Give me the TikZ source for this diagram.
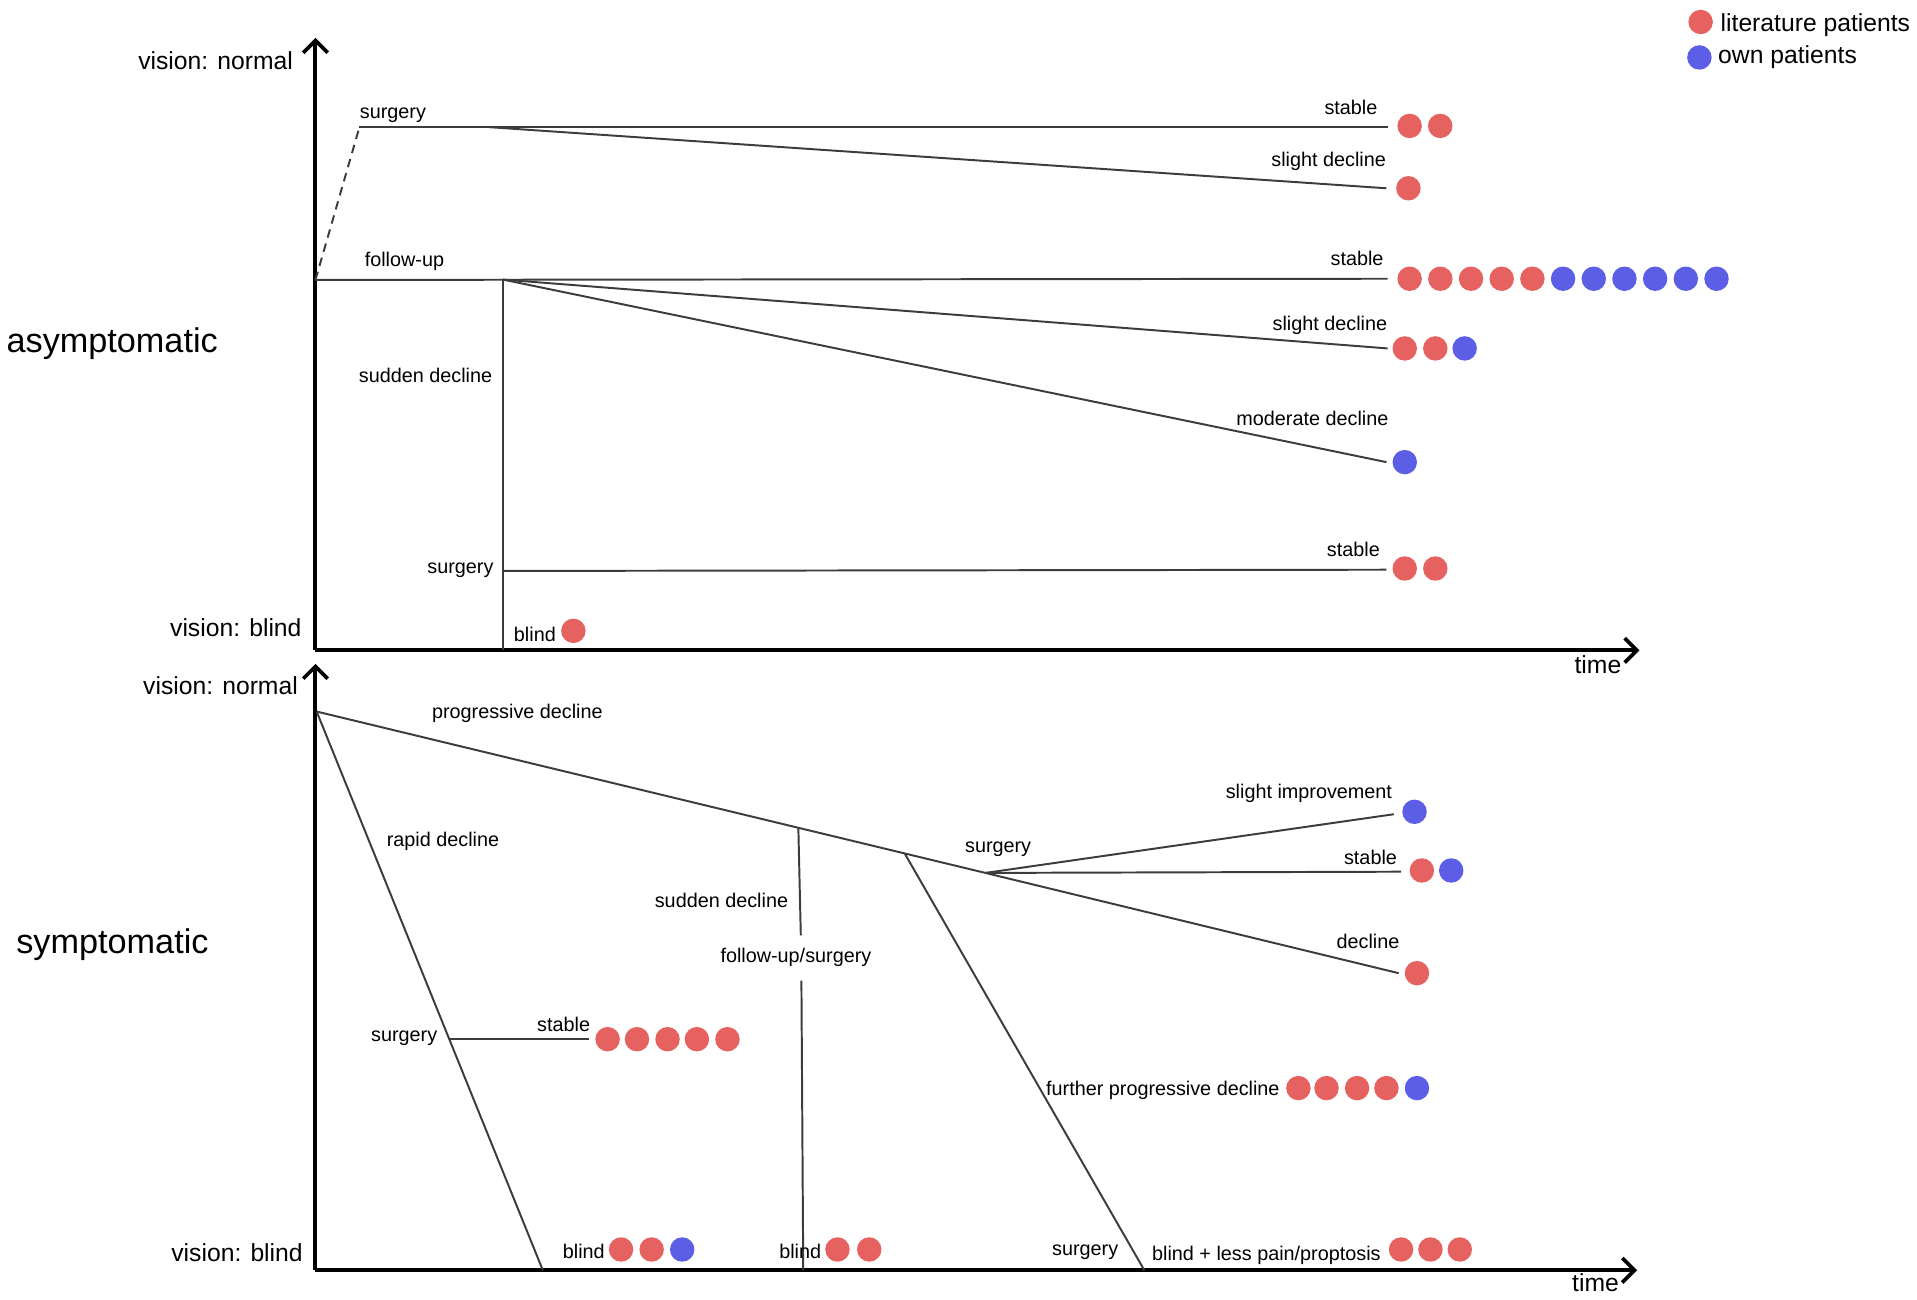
\documentclass[tikz,border=0pt]{standalone}
\usepackage{fontspec}
\setmainfont{Liberation Sans}
\usetikzlibrary{arrows.meta}
\definecolor{litred}{RGB}{229,98,96}
\definecolor{ownblue}{RGB}{92,94,230}
\definecolor{branchgray}{RGB}{60,60,60}
\newcommand{\axisfont}{\fontsize{10.1pt}{12pt}\selectfont}
\newcommand{\brfont}{\fontsize{8.1pt}{10pt}\selectfont}
\newcommand{\grpfont}{\fontsize{14pt}{16pt}\selectfont}
\begin{document}
\begin{tikzpicture}[x=0.5pt,y=-0.5pt,
  axis/.style={line width=1.65pt,-{Straight Barb[length=5pt,width=10pt,line width=1.5pt]}},
  branch/.style={line width=0.8pt,draw=branchgray},
  ax/.style={inner sep=0pt,font=\axisfont},
  br/.style={inner sep=0pt,font=\brfont},
  grp/.style={inner sep=0pt,font=\grpfont},
  dotr/.style={circle,fill=litred,inner sep=0pt,minimum size=10pt},
  dotb/.style={circle,fill=ownblue,inner sep=0pt,minimum size=10pt}]
\useasboundingbox (0,0) rectangle (1568,1063.3);

% ---------------- legend ----------------
\node[dotr] (legr) at (1391,18) {};
\node[dotb] (legb) at (1390,47) {};
\node[ax,anchor=base west] (legrt) at (1407,26) {literature patients};
\node[ax,anchor=base west] (legbt) at (1405,52) {own patients};

% ---------------- upper panel (asymptomatic) ----------------
\coordinate (O1) at (258,532);
\coordinate (Y1) at (258,31);
\coordinate (X1) at (1341,532);
\draw[axis] (O1) -- (Y1);
\draw[axis] (O1) -- (X1);
\node[ax,anchor=base east] (vn1) at (240,57) {vision: normal};
\node[ax,anchor=base east] (vb1) at (247,521) {vision: blind};
\node[ax,anchor=base] (time1) at (1307,551) {time};
\node[grp,anchor=base west] (asym) at (5,288) {asymptomatic};

\coordinate (F0) at (258,229);
\coordinate (Su0) at (294,104);
\coordinate (Su1) at (400,104);
\coordinate (SuE1) at (1135,104);
\coordinate (SuE2) at (1134,154);
\coordinate (FE1) at (1135,228);
\coordinate (F1) at (411.5,228.7);
\coordinate (FE2) at (1135,285);
\coordinate (FE3) at (1134,378);
\coordinate (FV) at (411.5,532);
\coordinate (FS) at (411.5,467);
\coordinate (FSE) at (1134,466);

\draw[branch,dashed,dash pattern=on 3.5pt off 2.5pt] (F0) -- (Su0);
\draw[branch] (Su0) -- (SuE1);
\draw[branch] (Su1) -- (SuE2);
\draw[branch] (F0) -- (FE1);
\draw[branch] (F1) -- (FE2);
\draw[branch] (F1) -- (FE3);
\draw[branch] (F1) -- (FV);
\draw[branch] (FS) -- (FSE);

\node[br,anchor=base west] (lsurg1) at (294,97) {surgery};
\node[br,anchor=base west] (lfollow) at (298,218) {follow-up};
\node[br,anchor=base east] (lsudd1) at (403,313) {sudden decline};
\node[br,anchor=base east] (lsurg2) at (404,469) {surgery};
\node[br,anchor=base west] (lblind1) at (420,525) {blind};
\node[br,anchor=base east] (lstabA) at (1127,94) {stable};
\node[br,anchor=base east] (lsliA) at (1134,136) {slight decline};
\node[br,anchor=base east] (lstabB) at (1132,217) {stable};
\node[br,anchor=base east] (lsliB) at (1135,270) {slight decline};
\node[br,anchor=base east] (lmod) at (1136,348) {moderate decline};
\node[br,anchor=base east] (lstabC) at (1129,455) {stable};

\node[dotr] (a1) at (1153,103) {};
\node[dotr] (a2) at (1178,103) {};
\node[dotr] (b1) at (1152,154) {};
\foreach \i in {0,...,4} { \node[dotr] (c\i) at (1153+25.1*\i,228) {}; }
\foreach \i in {5,...,10} { \node[dotb] (c\i) at (1153+25.1*\i,228) {}; }
\node[dotr] (d1) at (1149,285) {};
\node[dotr] (d2) at (1174,285) {};
\node[dotb] (d3) at (1198,285) {};
\node[dotb] (e1) at (1149,378) {};
\node[dotr] (f1) at (1149,465) {};
\node[dotr] (f2) at (1174,465) {};
\node[dotr] (g1) at (469,516) {};

% ---------------- lower panel (symptomatic) ----------------
\coordinate (O2) at (258,1039);
\coordinate (Y2) at (258,543);
\coordinate (X2) at (1339,1039);
\draw[axis] (O2) -- (Y2);
\draw[axis] (O2) -- (X2);
\node[ax,anchor=base east] (vn2) at (244,568) {vision: normal};
\node[ax,anchor=base east] (vb2) at (248,1032) {vision: blind};
\node[ax,anchor=base] (time2) at (1305,1056) {time};
\node[grp,anchor=base west] (sympt) at (13,780) {symptomatic};

\coordinate (P0) at (259,582);
\coordinate (R1) at (444,1039);
\coordinate (RS) at (367.5,850);
\coordinate (RSE) at (482,850);
\coordinate (V0) at (653,677.1);
\coordinate (V1) at (655,765);
\coordinate (V2) at (655.5,802);
\coordinate (V3) at (657,1039);
\coordinate (Q0) at (740,698.1);
\coordinate (Q1) at (936,1039);
\coordinate (S0) at (806,714);
\coordinate (SE1) at (1140,666);
\coordinate (SE2) at (1146,713);
\coordinate (SE3) at (1144,796);

\draw[branch] (P0) -- (S0);
\draw[branch] (S0) -- (SE3);
\draw[branch] (P0) -- (R1);
\draw[branch] (RS) -- (RSE);
\draw[branch] (V0) -- (V1);
\draw[branch] (V2) -- (V3);
\draw[branch] (Q0) -- (Q1);
\draw[branch] (S0) -- (SE1);
\draw[branch] (S0) -- (SE2);

\node[br,anchor=base west] (lprog) at (353,588) {progressive decline};
\node[br,anchor=base west] (lrapid) at (316,692) {rapid decline};
\node[br,anchor=base east] (lsurg3) at (358,852) {surgery};
\node[br,anchor=base east] (lstabD) at (483,844) {stable};
\node[br,anchor=base west] (lblindL) at (460,1029) {blind};
\node[br,anchor=base east] (lsudd2) at (645,742) {sudden decline};
\node[br,anchor=base] (lfus) at (651,787) {follow-up/surgery};
\node[br,anchor=base west] (lblindM) at (637,1029) {blind};
\node[br,anchor=base west] (lsurg4) at (789,697) {surgery};
\node[br,anchor=base east] (limpr) at (1139,653) {slight improvement};
\node[br,anchor=base east] (lstabE) at (1143,707) {stable};
\node[br,anchor=base east] (ldecl) at (1145,776) {decline};
\node[br,anchor=base east] (lfurth) at (1047,896) {further progressive decline};
\node[br,anchor=base east] (lsurg5) at (915,1027) {surgery};
\node[br,anchor=base west] (lbless) at (942,1031) {blind + less pain/proptosis};

\foreach \i/\x in {1/497,2/521,3/546,4/570,5/595} { \node[dotr] (h\i) at (\x,850) {}; }
\node[dotr] (i1) at (508,1022) {};
\node[dotr] (i2) at (533,1022) {};
\node[dotb] (i3) at (558,1022) {};
\node[dotr] (j1) at (685,1022) {};
\node[dotr] (j2) at (711,1022) {};
\node[dotb] (k1) at (1157,664) {};
\node[dotr] (l1) at (1163,712) {};
\node[dotb] (l2) at (1187,712) {};
\node[dotr] (m1) at (1159,796) {};
\foreach \i/\x in {1/1062,2/1085,3/1110,4/1134} { \node[dotr] (n\i) at (\x,890) {}; }
\node[dotb] (n5) at (1159,890) {};
\node[dotr] (o1) at (1146,1022) {};
\node[dotr] (o2) at (1170,1022) {};
\node[dotr] (o3) at (1194,1022) {};
\end{tikzpicture}
\end{document}
